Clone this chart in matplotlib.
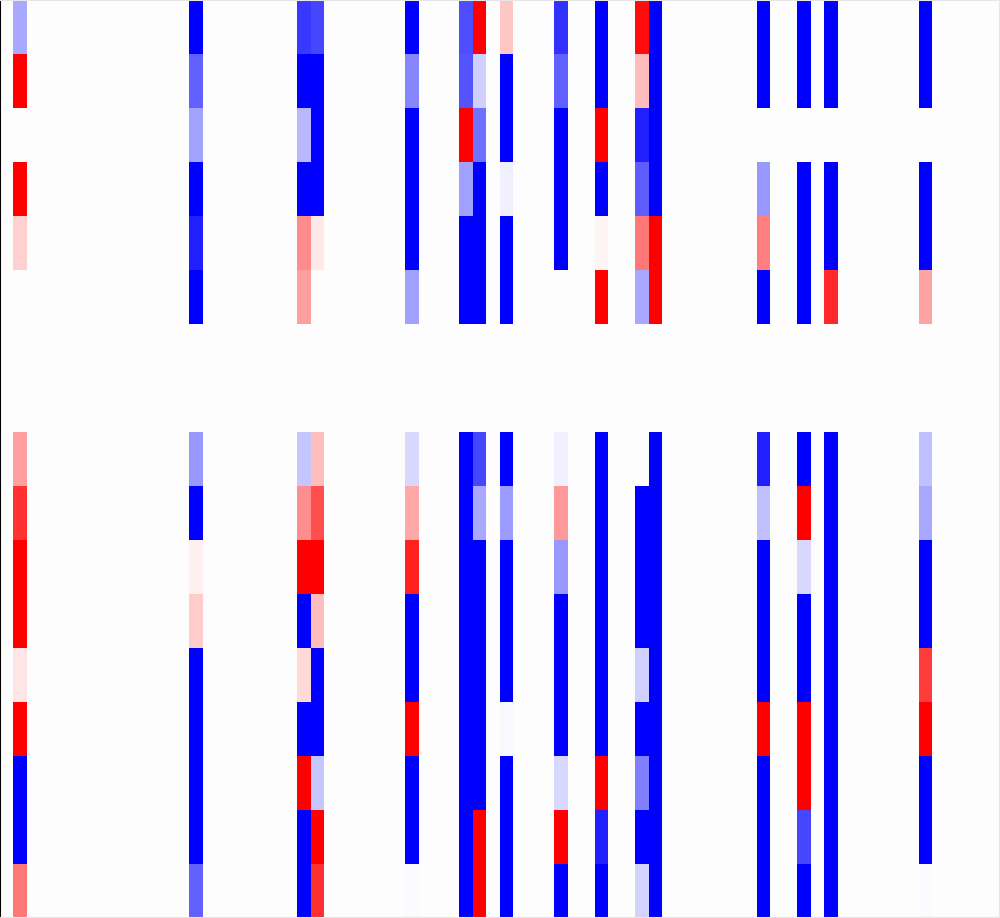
import numpy as np
import matplotlib
matplotlib.use("Agg")
import matplotlib.pyplot as plt

n_rows = 17
n_cols = 74
N = np.nan

# Column indices that carry data, and their values (rows top to bottom)
col_01 = [-0.34, 1, -0.01, 1, 0.18, N, N, N, 0.37, 0.81, 1, 1, 0.10, 1, -1, -1, 0.53]
col_14 = [-1, -0.61, -0.36, -1, -0.87, -1, N, N, -0.40, -1, 0.06, 0.20, -1, -1, -1, -1, -0.61]
col_22 = [-0.78, -1, -0.28, -1, 0.45, 0.37, N, N, -0.22, 0.44, 1, -1, 0.15, -1, 1, -1, -1]
col_23 = [-0.72, -1, -1, -1, 0.09, 0.01, N, N, 0.25, 0.69, 1, 0.25, -1, -1, -0.22, 1, 0.81]
col_30 = [-1, -0.47, -1, -1, -1, -0.37, N, N, -0.15, 0.34, 0.87, -1, -1, 1, -1, -1, -0.02]
col_34 = [-0.69, -0.67, 1, -0.37, -1, -1, N, N, -1, -1, -1, -1, -1, -1, -1, -1, -1]
col_35 = [1, -0.18, -0.56, -1, -1, -1, N, N, -0.72, -0.34, -1, -1, -1, -1, -1, 1, 1]
col_37 = [0.22, -1, -1, -0.06, -1, -1, N, N, -1, -0.39, -1, -1, -1, -0.03, -1, -1, -1]
col_41 = [-0.80, -0.62, -1, -1, -1, N, N, N, -0.06, 0.40, -0.40, -1, -1, -1, -0.15, 1, -1]
col_44 = [-1, -1, 1, -1, 0.04, 1, N, N, -1, -1, -1, -1, -1, -1, 1, -0.87, -1]
col_47 = [0.95, 0.26, -0.87, -0.64, 0.53, -0.34, N, N, N, -1, -1, -1, -0.18, -1, -0.50, -1, -0.17]
col_48 = [-1, -1, -1, -1, 1, 1, N, N, -1, -1, -1, -1, -1, -1, -1, -1, -1]
col_56 = [-1, -1, N, -0.40, 0.50, -1, N, N, -0.87, -0.25, -1, -1, -1, 1, -1, -1, -1]
col_59 = [-1, -1, N, -1, -1, -1, N, N, -1, 1, -0.15, -1, -1, 1, 1, -0.72, -1]
col_61 = [-1, -1, N, -1, -1, 0.83, N, N, -1, -1, -1, -1, -1, -1, -1, -1, -1]
col_68 = [-1, -1, N, -1, -1, 0.36, N, N, -0.25, -0.34, -1, -1, 0.76, 1, -1, -1, -0.02]

columns = {1: col_01, 14: col_14, 22: col_22, 23: col_23, 30: col_30,
           34: col_34, 35: col_35, 37: col_37, 41: col_41, 44: col_44,
           47: col_47, 48: col_48, 56: col_56, 59: col_59, 61: col_61,
           68: col_68}

data = np.full((n_rows, n_cols), np.nan)
for c, vals in columns.items():
    data[:, c] = vals

fig = plt.figure(figsize=(10, 9.18), dpi=100)
fig.patch.set_facecolor("#fdfdfd")
ax = fig.add_axes([0, 0, 1, 1])
ax.set_facecolor("#fdfdfd")
ax.imshow(data, cmap="bwr", vmin=-1, vmax=1, aspect="auto",
          interpolation="nearest", extent=(0, n_cols, n_rows, 0))
ax.set_xticks([])
ax.set_yticks([])
for side, sp in ax.spines.items():
    if side == "left":
        sp.set_color("black")
        sp.set_linewidth(1.5)
    else:
        sp.set_color("#e6e6e6")
        sp.set_linewidth(1.5)

fig.savefig("out.png", dpi=100, facecolor=fig.get_facecolor())
